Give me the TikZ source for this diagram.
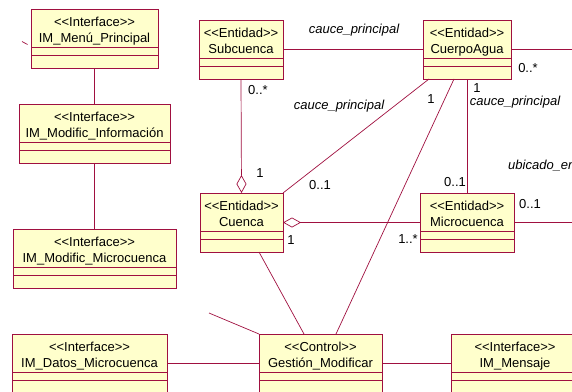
\documentclass[tikz,border=0pt]{standalone}
\usepackage{fontspec}
\setmainfont{Liberation Sans}
\usetikzlibrary{arrows.meta}
\definecolor{umlred}{RGB}{160,16,64}
\definecolor{umlfill}{RGB}{255,255,204}
\newcommand\stereo[1]{<\kern0pt<#1>\kern0pt>}
\tikzset{
  classbox/.style={draw=umlred, fill=umlfill, line width=0.9pt, inner sep=0pt, outer sep=0pt, anchor=north west, minimum height=59pt},
  compline/.style={draw=umlred, line width=0.9pt},
  conn/.style={draw=umlred, line width=0.7pt},
  classtext/.style={font=\fontsize{13}{15}\selectfont, anchor=base, inner sep=0pt},
  mult/.style={font=\fontsize{13}{15}\selectfont, inner sep=0pt},
  role/.style={font=\fontsize{13}{15}\selectfont\itshape, inner sep=0pt},
  aggr/.style={conn, {Diamond[open, length=18pt, width=10pt, line width=0.7pt]}-},
}
% #1 name, #2 x left, #3 y top, #4 width, #5 stereotype, #6 title
\newcommand\umlclass[6]{%
  \node[classbox, minimum width=#4] (#1) at (#2,#3) {};
  \draw[compline] ([yshift=-38.5pt]#1.north west) -- ([yshift=-38.5pt]#1.north east);
  \draw[compline] ([yshift=-46.5pt]#1.north west) -- ([yshift=-46.5pt]#1.north east);
  \node[classtext] (#1-st) at ([yshift=-17.5pt]#1.north) {\stereo{#5}};
  \node[classtext] (#1-ti) at ([yshift=-33.5pt]#1.north) {#6};
}
\begin{document}
\begin{tikzpicture}[x=1pt,y=-1pt]
\useasboundingbox (0,0) rectangle (572,391);
\clip (0,0) rectangle (572,391);
\fill[white] (0,0) rectangle (572,391);

\coordinate (tickA) at (22,41.5);
\coordinate (tickB) at (27.5,44.5);
\coordinate (freeL) at (209,313);
\coordinate (freeCA) at (580,49.5);
\coordinate (freeMC) at (580,222.5);

\umlclass{menu}{31}{9}{127}{Interface}{IM\_Menú\_Principal}
\umlclass{info}{19}{104}{151}{Interface}{IM\_Modific\_Información}
\umlclass{modmc}{13}{229}{163}{Interface}{IM\_Modific\_Microcuenca}
\umlclass{datos}{12}{334}{155}{Interface}{IM\_Datos\_Microcuenca}
\umlclass{sub}{199}{20}{84}{Entidad}{Subcuenca}
\umlclass{ca}{423}{20}{88}{Entidad}{CuerpoAgua}
\umlclass{cuenca}{200}{193}{83}{Entidad}{Cuenca}
\umlclass{micro}{420}{193}{94}{Entidad}{Microcuenca}
\umlclass{gest}{259}{334}{123}{Control}{Gestión\_Modificar}
\umlclass{msg}{451}{334}{128}{Interface}{IM\_Mensaje}

\draw[conn] (tickA) -- (tickB);
\draw[conn] (menu.south) -- (info.north);
\draw[conn] (info.south) -- (modmc.north);
\draw[conn] (sub.east) -- (ca.west);
\draw[conn] (ca.east) -- (freeCA);
\draw[aggr] (cuenca.north) -- (sub.south);
\draw[conn] (cuenca.north east) -- ([xshift=6pt]ca.south west);
\draw[aggr] (cuenca.east) -- (micro.west);
\draw[conn] (ca.south) -- (micro.north);
\draw[conn] (micro.east) -- (freeMC);
\draw[conn] ([xshift=-13pt]ca.south) -- ([xshift=15.5pt]gest.north);
\draw[conn] ([xshift=17.5pt]cuenca.south) -- ([xshift=-16.5pt]gest.north);
\draw[conn] (freeL) -- (gest.north west);
\draw[conn] (datos.east) -- (gest.west);
\draw[conn] (gest.east) -- (msg.west);

% labels
\node[role] (l1) at (354,30) {cauce\_principal};
\node[role] (l2) at (339,106) {cauce\_principal};
\node[role] (l3) at (515,102) {cauce\_principal};
\node[role, anchor=west] (l4) at (508,166) {ubicado\_en};
\node[mult] (m1) at (528,68) {0..*};
\node[mult] (m2) at (258,90) {0..*};
\node[mult] (m3) at (260,173) {1};
\node[mult] (m4) at (320,185) {0..1};
\node[mult] (m5) at (431,99) {1};
\node[mult] (m6) at (477,88) {1};
\node[mult] (m7) at (455,182) {0..1};
\node[mult] (m8) at (530,204) {0..1};
\node[mult] (m9) at (291,240) {1};
\node[mult] (m10) at (408,239) {1..*};
\end{tikzpicture}
\end{document}
